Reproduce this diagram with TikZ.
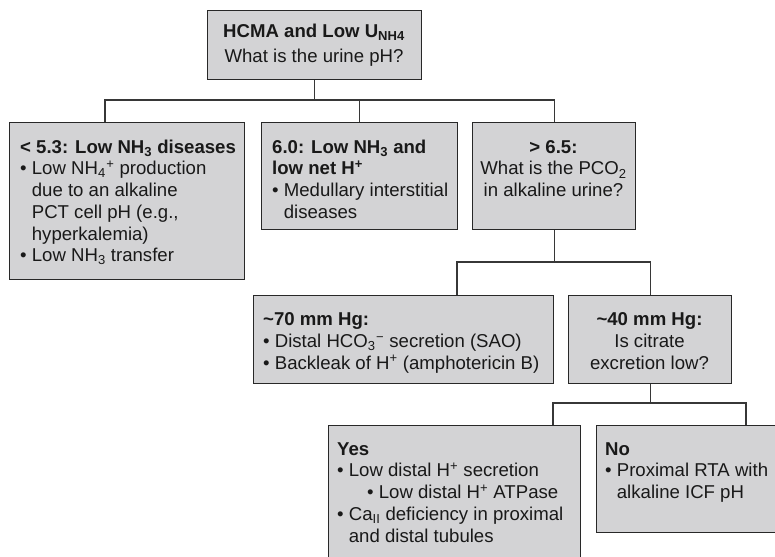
\documentclass[tikz,border=0pt]{standalone}
\usepackage{fontspec}
\setmainfont{Liberation Sans}
\definecolor{boxfill}{RGB}{211,211,213}
\definecolor{boxline}{RGB}{40,40,40}
\definecolor{connline}{RGB}{55,55,55}
\definecolor{ink}{RGB}{25,25,25}
% bullet, hanging indent, subscript followed by superscript
\newcommand\bl{\textbullet\ }
\newcommand\hg{\hphantom{\textbullet\ }}
\newcommand\subsup[2]{\textsubscript{#1}\kern0.5pt\textsuperscript{#2}}
\newcommand\firstline{\rule{0pt}{16pt}}
\begin{document}
\begin{tikzpicture}[x=1pt,y=-1pt,
  box/.style={draw=boxline, fill=boxfill, line width=1.4pt, rectangle,
    inner sep=0pt, anchor=north west},
  conn/.style={draw=connline, line width=1.3pt},
  txt/.style={inner sep=0pt, text=ink, font=\fontsize{18.6}{21.7}\selectfont},
  lefttxt/.style={txt, align=left, anchor=north west},
  midtxt/.style={txt, align=center, anchor=north}]
\useasboundingbox (0,0) rectangle (775,556);
\clip (0,0) rectangle (775,556);

% boxes
\node[box, minimum width=214pt, minimum height=69pt]  (top) at (207,10) {};
\node[box, minimum width=235pt, minimum height=157pt] (b1) at (9,122) {};
\node[box, minimum width=196pt, minimum height=107pt] (b2) at (261,122) {};
\node[box, minimum width=163pt, minimum height=107pt] (b3) at (472,122) {};
\node[box, minimum width=300pt, minimum height=88pt]  (b4) at (253,295) {};
\node[box, minimum width=163pt, minimum height=88pt]  (b5) at (568,295) {};
\node[box, minimum width=252pt, minimum height=150pt] (b6) at (328,425) {};
\node[box, minimum width=200pt, minimum height=107pt] (b7) at (596,425) {};

% texts
\node[midtxt] (t0) at (314,21) {\firstline\textbf{HCMA and Low U\textsubscript{NH4}}\\[4pt]
  What is the urine pH?};
\node[lefttxt] (t1) at (20,137) {\firstline\textbf{< 5.3: Low NH\textsubscript{3} diseases}\\
  \bl Low NH\subsup{4}{+} production\\
  \hg due to an alkaline\\
  \hg PCT cell pH (e.g.,\\
  \hg hyperkalemia)\\
  \bl Low NH\textsubscript{3} transfer};
\node[lefttxt] (t2) at (272,137) {\firstline\textbf{6.0: Low NH\textsubscript{3} and}\\
  \textbf{low net H\textsuperscript{+}}\\
  \bl Medullary interstitial\\
  \hg diseases};
\node[midtxt] (t3) at (553.5,137) {\firstline\textbf{> 6.5:}\\
  What is the PCO\textsubscript{2}\\
  in alkaline urine?};
\node[lefttxt] (t4) at (263,309.5) {\firstline\textbf{\textasciitilde 70 mm Hg:}\\
  \bl Distal HCO\subsup{3}{−} secretion (SAO)\\
  \bl Backleak of H\textsuperscript{+} (amphotericin B)};
\node[midtxt] (t5) at (649.5,309.5) {\firstline\textbf{\textasciitilde 40 mm Hg:}\\
  Is citrate\\
  excretion low?};
\node[lefttxt] (t6) at (337,439) {\firstline\textbf{Yes}\\
  \bl Low distal H\textsuperscript{+} secretion\\
  \hspace{30pt}\bl Low distal H\textsuperscript{+} ATPase\\
  \bl Ca\textsubscript{II} deficiency in proximal\\
  \hg and distal tubules};
\node[lefttxt] (t7) at (605,439) {\firstline\textbf{No}\\
  \bl Proximal RTA with\\
  \hg alkaline ICF pH};

% connectors
\coordinate (busA) at (105,100);
\coordinate (busC) at (457,262);
\coordinate (busD) at (553,403);
\coordinate (busE) at (746,403);
\draw[conn] (top.south) -- (top.south |- busA);
\draw[conn] (b1.north -| busA) -- (busA) -- (busA -| b3.north) -- (b3.north);
\draw[conn] (b2.north) -- (b2.north |- busA);
\draw[conn] (b3.south) -- (b3.south |- busC);
\draw[conn] (b4.north -| busC) -- (busC) -- (busC -| b5.north) -- (b5.north);
\draw[conn] (b5.south) -- (b5.south |- busD);
\draw[conn] (b6.north -| busD) -- (busD) -- (busE) -- (b7.north -| busE);
\end{tikzpicture}
\end{document}
